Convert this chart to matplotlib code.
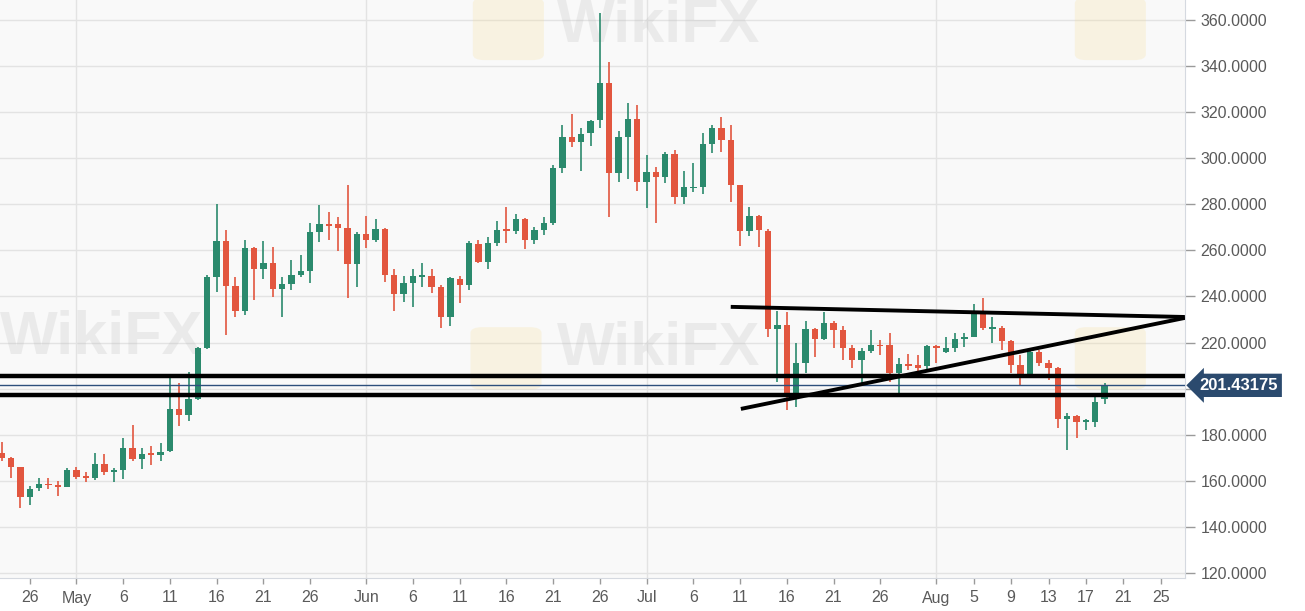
import numpy as np
import pandas as pd
import matplotlib
matplotlib.use("Agg")
import matplotlib.pyplot as plt
import matplotlib.dates as mdates
import matplotlib.transforms as mtransforms
from matplotlib.patches import FancyBboxPatch

plt.rcParams['font.family'] = ['Liberation Sans', 'DejaVu Sans']

# daily candles, 23 Apr - 19 Aug
dates = pd.date_range("2019-04-23", "2019-08-19", freq="D")

opens = [
    172.2, 169.8, 165.8, 153.1, 156.7, 158.6, 158.1, 157.1,
    164.7, 161.8, 161.3, 167.3, 164.0, 164.5, 174.1, 169.5, 171.8, 171.1,
    172.8, 191.0, 188.6, 195.4, 217.5, 248.6, 264.2, 244.6, 233.7, 260.9,
    251.8, 254.4, 243.3, 245.4, 249.3, 251.2, 268.1, 271.5, 271.3, 269.6, 254.1,
    267.1, 264.5, 269.2, 249.3, 241.1, 246.0, 248.6, 248.9, 244.3, 231.3,
    247.4, 245.0, 262.7, 255.1, 263.4, 268.9, 268.4, 273.5, 264.5, 268.9,
    272.0, 295.6, 309.1, 307.2, 310.9, 316.5, 332.5, 293.8, 309.1, 316.9,
    289.9, 293.9, 292.0, 301.9, 283.1, 286.9, 287.4, 306.2, 313.0, 307.9,
    288.4, 268.6, 275.0, 268.6, 225.8, 227.6, 198.3, 211.0, 225.8, 221.4,
    228.4, 225.5, 217.5, 212.4, 216.5, 219.0, 219.0, 206.9, 210.7, 210.2, 209.8,
    218.5, 216.1, 217.5, 221.4, 222.5, 232.7, 226.0, 226.2, 220.8, 210.3,
    206.2, 216.1, 211.0, 208.8, 186.7, 188.1, 185.5, 185.7, 195.4,
]
highs = [
    177.0, 170.5, 166.0, 157.8, 161.1, 161.1, 160.1, 165.4,
    166.1, 163.9, 172.2, 171.6, 165.4, 178.5, 184.2, 174.1, 175.2, 176.6,
    204.5, 202.6, 207.4, 218.2, 249.3, 280.3, 269.0, 248.6, 264.5, 261.5,
    264.1, 261.6, 248.3, 255.9, 258.0, 271.8, 279.7, 276.5, 274.7, 288.4, 268.1,
    275.0, 273.5, 269.6, 251.8, 248.9, 251.8, 254.4, 251.8, 245.0, 248.3,
    248.9, 264.0, 264.5, 265.7, 272.9, 279.0, 275.8, 274.0, 270.0, 274.4,
    297.1, 314.4, 319.2, 313.3, 316.5, 362.9, 341.9, 312.0, 323.9, 323.1,
    301.4, 296.4, 302.9, 303.5, 294.6, 297.8, 310.8, 314.4, 318.1, 314.4,
    288.6, 279.0, 275.2, 269.4, 233.9, 233.4, 219.7, 229.5, 226.5, 233.4,
    229.5, 227.0, 219.0, 217.5, 225.5, 221.1, 224.0, 213.2, 215.0, 214.6, 219.0,
    219.0, 222.3, 224.0, 224.0, 236.8, 239.2, 231.0, 227.2, 221.0, 214.6,
    216.5, 216.8, 212.4, 209.3, 189.6, 188.5, 186.7, 196.8, 202.6,
]
lows = [
    168.5, 161.1, 148.1, 149.5, 155.6, 156.3, 153.4, 157.1,
    160.6, 159.6, 160.4, 162.6, 159.6, 160.6, 168.4, 164.9, 166.9, 168.4,
    172.5, 183.6, 185.8, 195.0, 217.0, 242.0, 223.3, 231.0, 232.0, 238.5,
    247.5, 239.9, 231.0, 242.9, 248.6, 245.7, 263.8, 264.5, 259.9, 239.2, 244.3,
    260.9, 263.8, 246.4, 233.9, 237.8, 235.3, 244.3, 241.7, 226.2, 227.2,
    237.3, 243.0, 254.4, 251.8, 262.0, 263.4, 267.1, 260.5, 263.0, 266.7,
    271.0, 293.5, 305.0, 294.6, 305.3, 313.3, 274.4, 289.9, 291.0, 285.9,
    278.3, 271.8, 289.1, 280.2, 280.2, 285.5, 284.7, 302.4, 302.9, 280.8,
    261.9, 266.3, 261.4, 222.3, 203.0, 190.7, 192.2, 206.7, 213.9, 221.0,
    217.5, 212.4, 208.8, 202.3, 215.5, 214.6, 203.0, 197.3, 208.0, 206.9, 208.0,
    211.0, 215.5, 216.0, 218.0, 222.5, 225.5, 220.0, 216.8, 206.7, 201.2,
    206.0, 209.8, 203.8, 182.8, 173.4, 178.5, 182.1, 183.5, 193.4,
]
closes = [
    169.8, 166.1, 152.8, 156.3, 158.6, 158.1, 157.1, 164.7,
    161.8, 161.3, 167.3, 164.0, 164.5, 174.1, 169.5, 171.6, 171.4, 172.5,
    191.0, 188.6, 195.4, 217.5, 248.6, 264.2, 244.6, 233.7, 260.9, 251.8,
    254.4, 243.3, 245.4, 249.3, 251.2, 268.1, 271.5, 270.8, 269.6, 254.1, 267.1,
    264.5, 269.2, 249.3, 241.1, 246.0, 248.9, 249.0, 244.3, 231.3, 247.9,
    245.0, 263.4, 255.1, 263.4, 268.9, 268.4, 273.5, 264.5, 268.9, 272.0,
    295.6, 309.1, 307.2, 310.5, 316.3, 332.5, 293.8, 309.1, 316.9, 289.9,
    293.9, 292.0, 301.9, 283.1, 287.4, 287.4, 306.2, 313.0, 307.9, 288.4,
    268.6, 275.0, 268.9, 225.8, 227.6, 198.3, 211.0, 225.8, 221.4, 228.4,
    225.5, 217.5, 212.4, 216.5, 219.0, 218.3, 206.9, 210.7, 209.8, 208.8, 218.5,
    217.5, 217.5, 221.4, 222.5, 232.7, 226.2, 226.2, 220.8, 210.3, 206.4,
    216.1, 211.3, 208.8, 186.7, 188.1, 185.7, 186.0, 194.4, 201.43175,
]

# drawn support/resistance levels and triangle
levels = [205.5, 197.3]
upper_line_dates = ["2019-07-10 00:00", "2019-08-27 14:00"]
upper_line_prices = [235.5, 231.1]
lower_line_dates = ["2019-07-11 02:00", "2019-08-27 14:00"]
lower_line_prices = [191.2, 230.7]

tick_dates = ["2019-04-26", "2019-05-01", "2019-05-06", "2019-05-11", "2019-05-16",
              "2019-05-21", "2019-05-26", "2019-06-01", "2019-06-06", "2019-06-11",
              "2019-06-16", "2019-06-21", "2019-06-26", "2019-07-01", "2019-07-06",
              "2019-07-11", "2019-07-16", "2019-07-21", "2019-07-26", "2019-08-01",
              "2019-08-05", "2019-08-09", "2019-08-13", "2019-08-17", "2019-08-21",
              "2019-08-25"]
tick_labels = ["26", "May", "6", "11", "16", "21", "26", "Jun", "6", "11", "16", "21",
               "26", "Jul", "6", "11", "16", "21", "26", "Aug", "5", "9", "13", "17",
               "21", "25"]
month_starts = ["2019-05-01", "2019-06-01", "2019-07-01", "2019-08-01"]
price_ticks = np.arange(120, 361, 20)

GREEN = "#2b8a6d"
RED = "#e2563f"
LABEL = "#5a5a5a"

fig = plt.figure(figsize=(13.05, 6.11), dpi=100)
ax = fig.add_axes([0, 33 / 611, 1185 / 1305, 578 / 611])
ax.set_facecolor("#f9f9f9")

# watermark
for (tx, ty) in [(0.47, 0.955), (0.0, 0.415), (0.47, 0.395)]:
    ax.text(tx, ty, "WikiFX", transform=ax.transAxes, fontsize=44, fontweight="bold",
            color="#b8b8b8", alpha=0.22, ha="left", va="center", zorder=1)
for (lx, ly) in [(0.403, 0.9), (0.911, 0.9), (0.401, 0.33), (0.911, 0.33)]:
    ax.add_patch(FancyBboxPatch((lx, ly), 0.052, 0.1, transform=ax.transAxes,
                                boxstyle="round,pad=0.004,rounding_size=0.01",
                                fc="#f6dc8f", ec="none", alpha=0.22, zorder=1))

x = mdates.date2num(dates)
o = np.array(opens)
h = np.array(highs)
l = np.array(lows)
c = np.array(closes)
colors = np.where(c >= o, GREEN, RED)

ax.vlines(x, l, h, colors=colors, lw=1.2, zorder=3)
ax.bar(x, np.maximum(np.abs(c - o), 0.7), bottom=np.minimum(o, c), width=0.68,
       color=colors, zorder=4)

for lv in levels:
    ax.axhline(lv, color="black", lw=3.2, zorder=5)
ax.axhline(closes[-1], color="#2d4f7c", lw=1.0, zorder=5)
ax.plot(mdates.date2num(pd.to_datetime(upper_line_dates)), upper_line_prices,
        color="black", lw=2.8, zorder=5, solid_capstyle="butt")
ax.plot(mdates.date2num(pd.to_datetime(lower_line_dates)), lower_line_prices,
        color="black", lw=2.8, zorder=5, solid_capstyle="butt")

# grid
for ms in month_starts:
    ax.axvline(mdates.date2num(pd.Timestamp(ms)), color="#e3e3e3", lw=1, zorder=0)
for p in price_ticks:
    ax.axhline(p, color="#e3e3e3", lw=1, zorder=0)

ax.set_xlim(x[0] - 0.18, x[0] + 126.6)
ax.set_ylim(117.8, 368.7)

ax.yaxis.tick_right()
ax.set_yticks(price_ticks)
# the 200 label sits under the last-price tag, so it is not shown
ax.set_yticklabels(["" if p == 200 else f"{p:.4f}" for p in price_ticks])
ax.tick_params(axis="y", length=7, width=1, color="#9a9a9a", labelcolor=LABEL,
               labelsize=11.5, pad=4)
ax.set_xticks(mdates.date2num(pd.to_datetime(tick_dates)))
ax.set_xticklabels(tick_labels)
ax.tick_params(axis="x", length=4, width=1, color="#9a9a9a", labelcolor=LABEL,
               labelsize=11.5, pad=5)

for side in ["top", "left"]:
    ax.spines[side].set_visible(False)
ax.spines["right"].set_color("#d5d9e0")
ax.spines["bottom"].set_color("#d5d9e0")

# last price tag
trans = mtransforms.blended_transform_factory(ax.transAxes, ax.transData)
ax.text(1.012, closes[-1], f"{closes[-1]:.5f}", transform=trans, ha="left", va="center",
        color="white", fontweight="bold", fontsize=12, zorder=10, clip_on=False,
        bbox=dict(boxstyle="larrow,pad=0.25", fc="#2b4a6e", ec="none"))

fig.savefig("out.png", dpi=100, facecolor="white")
